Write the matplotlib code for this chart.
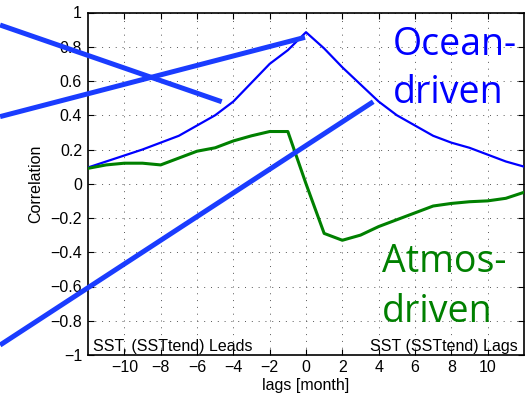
import matplotlib
matplotlib.use("Agg")
import matplotlib.pyplot as plt
import numpy as np

# ---- data ----
lags = list(range(-12, 13))
ocean_driven = [0.095, 0.13, 0.165, 0.20, 0.24, 0.28, 0.34, 0.40, 0.48, 0.59, 0.70, 0.78, 0.885,
                0.79, 0.68, 0.58, 0.48, 0.40, 0.34, 0.28, 0.24, 0.21, 0.17, 0.13, 0.10]
atmos_driven = [0.09, 0.11, 0.12, 0.12, 0.11, 0.15, 0.19, 0.21, 0.25, 0.28, 0.305, 0.305, 0.0,
                -0.29, -0.33, -0.30, -0.25, -0.21, -0.17, -0.13, -0.115, -0.105, -0.10, -0.085, -0.05]
xticks = [-10, -8, -6, -4, -2, 0, 2, 4, 6, 8, 10]
yticks = [-1, -0.8, -0.6, -0.4, -0.2, 0, 0.2, 0.4, 0.6, 0.8, 1]
ytick_labels = ["\u22121", "\u22120.8", "\u22120.6", "\u22120.4", "\u22120.2", "0",
                "0.2", "0.4", "0.6", "0.8", "1"]

# annotation strokes (start, end) in data units, extending beyond the axes
strokes = [((-16.84, 0.927), (-4.64, 0.479)),
           ((-16.84, 0.392), (-0.055, 0.855)),
           ((-16.84, -0.942), (3.70, 0.479))]

plt.rcParams['font.family'] = ['Liberation Sans', 'DejaVu Sans']

fig = plt.figure(figsize=(5.29, 4.01), dpi=100)
ax = fig.add_axes([88/529, 1 - 355/401, 436/529, 342.5/401])

ax.plot(lags, ocean_driven, color='#0000ff', lw=1.6, zorder=3)
ax.plot(lags, atmos_driven, color='#008000', lw=2.2, zorder=3)

ax.set_xlim(-12, 12)
ax.set_ylim(-1, 1)
ax.set_xticks(xticks)
ax.set_xticklabels([str(t).replace('-', '\u2212') for t in xticks])
ax.set_yticks(yticks)
ax.set_yticklabels(ytick_labels)
ax.tick_params(direction='in', top=True, right=True, length=4, width=0.8,
               labelsize=11.5, colors='black')
ax.tick_params(axis='y', pad=4.3)
ax.tick_params(axis='x', pad=3.6)
ax.grid(True, linestyle=(0, (1, 6)), color='#555555', lw=0.7)
for s in ax.spines.values():
    s.set_linewidth(1.2)
    s.set_color('black')

ax.set_xlabel('lags [month]', fontsize=11.5, labelpad=2)
ax.set_ylabel('Correlation', fontsize=11.5, labelpad=5)

ax.text(0.011, 0.012, 'SST, (SSTtend) Leads', transform=ax.transAxes,
        fontsize=11.5, ha='left', va='baseline')
ax.text(0.986, 0.012, 'SST (SSTtend) Lags', transform=ax.transAxes,
        fontsize=11.5, ha='right', va='baseline')

big = dict(fontsize=27, family=['Open Sans', 'DejaVu Sans'], ha='left', va='baseline',
           transform=ax.transAxes)
ax.text(0.70, 0.876, 'Ocean-', color='#0000ff', **big)
ax.text(0.70, 0.736, 'driven', color='#0000ff', **big)
ax.text(0.674, 0.243, 'Atmos-', color='#008000', **big)
ax.text(0.674, 0.097, 'driven', color='#008000', **big)

for (x0, y0), (x1, y1) in strokes:
    ax.plot([x0, x1], [y0, y1], color='#1a3cff', lw=3.6, solid_capstyle='butt',
            clip_on=False, zorder=5)

fig.savefig('out.png', dpi=100)
